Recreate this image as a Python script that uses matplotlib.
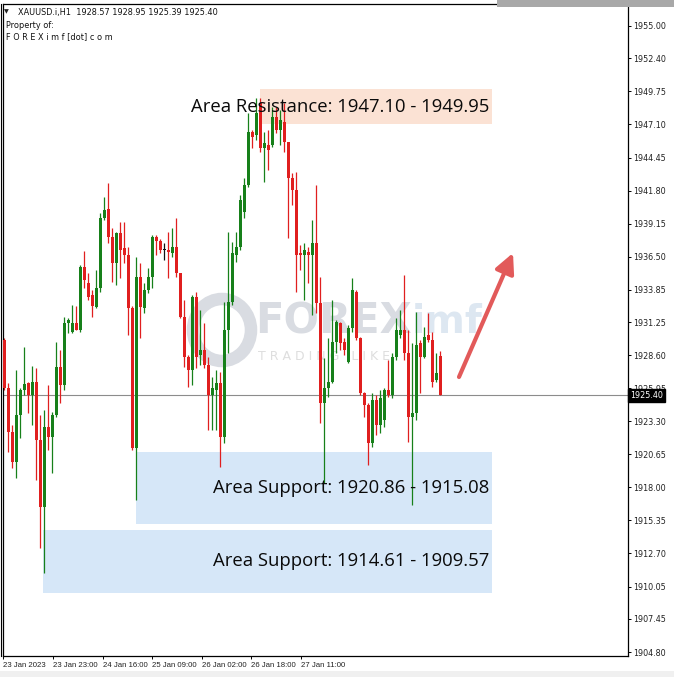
import numpy as np
import matplotlib
matplotlib.use("Agg")
import matplotlib.pyplot as plt
from matplotlib.patches import Rectangle, Ellipse
from matplotlib.lines import Line2D
from matplotlib.transforms import blended_transform_factory

# ---------------- data ----------------
symbol = "XAUUSD.i,H1"
header_ohlc = "1928.57 1928.95 1925.39 1925.40"

opens = [1929.82, 1925.97, 1922.44, 1920.04, 1923.81, 1925.81, 1926.37, 1925.41, 1926.45, 1921.80,
         1916.43, 1922.84, 1922.04, 1923.81, 1927.66, 1926.21, 1931.18, 1930.46, 1931.18, 1930.62,
         1935.67, 1934.39, 1933.43, 1932.47, 1933.99, 1939.60, 1940.33, 1938.08, 1936.00, 1938.40,
         1937.20, 1936.64, 1932.39, 1921.16, 1934.87, 1932.39, 1933.83, 1934.87, 1938.08, 1937.76,
         1937.04, 1937.04, 1936.80, 1937.28, 1935.19, 1931.67, 1928.46, 1927.41, 1933.27, 1928.62,
         1929.02, 1927.82, 1925.41, 1925.81, 1926.37, 1922.04, 1930.62, 1932.87, 1936.64, 1937.28,
         1940.09, 1942.25, 1946.50, 1946.26, 1948.83, 1945.22, 1945.46, 1945.46, 1947.70, 1946.66,
         1947.30, 1945.70, 1942.81, 1941.85, 1936.80, 1936.64, 1936.88, 1936.64, 1937.60, 1932.79,
         1924.77, 1925.97, 1926.45, 1929.66, 1931.18, 1929.66, 1928.06, 1930.78, 1933.67, 1929.98,
         1925.57, 1924.61, 1921.56, 1925.01, 1923.00, 1923.41, 1925.81, 1925.41, 1928.46, 1930.22,
         1930.62, 1928.78, 1923.65, 1923.97, 1929.58, 1928.46, 1930.22, 1929.82, 1926.61, 1928.57]

highs = [1929.98, 1926.37, 1923.00, 1927.41, 1925.97, 1929.26, 1926.45, 1927.74, 1927.58, 1923.81,
         1924.21, 1926.21, 1924.05, 1929.66, 1929.02, 1931.67, 1931.59, 1932.63, 1932.55, 1935.83,
         1936.96, 1935.19, 1933.83, 1935.43, 1940.00, 1941.29, 1942.41, 1938.80, 1938.50, 1939.28,
         1939.28, 1937.28, 1932.55, 1936.48, 1936.00, 1934.39, 1935.59, 1938.24, 1938.24, 1937.92,
         1937.60, 1938.48, 1938.80, 1939.60, 1935.19, 1933.03, 1928.62, 1933.43, 1933.67, 1932.23,
         1931.18, 1928.46, 1926.85, 1927.41, 1927.25, 1932.87, 1938.48, 1937.68, 1938.48, 1941.45,
         1942.81, 1948.02, 1946.66, 1949.23, 1949.23, 1946.50, 1946.66, 1948.51, 1948.51, 1948.26,
         1948.83, 1945.70, 1943.21, 1943.29, 1937.44, 1937.60, 1937.28, 1939.44, 1942.25, 1934.87,
         1928.38, 1929.98, 1933.03, 1931.42, 1931.26, 1929.98, 1931.02, 1934.79, 1933.83, 1930.06,
         1925.65, 1924.77, 1925.57, 1925.41, 1925.81, 1925.97, 1928.22, 1928.78, 1931.59, 1932.23,
         1935.03, 1930.62, 1929.58, 1932.07, 1929.82, 1930.86, 1931.99, 1930.46, 1928.78, 1928.95]

lows = [1925.81, 1920.84, 1919.56, 1918.75, 1921.96, 1925.41, 1923.97, 1923.00, 1918.59, 1913.14,
        1911.14, 1921.00, 1919.15, 1923.65, 1924.77, 1925.81, 1930.38, 1930.38, 1930.62, 1930.46,
        1933.99, 1933.03, 1931.67, 1932.39, 1933.67, 1939.44, 1937.60, 1934.47, 1934.23, 1934.79,
        1936.00, 1930.22, 1921.00, 1916.99, 1929.98, 1931.99, 1933.59, 1933.99, 1936.64, 1936.80,
        1936.24, 1934.79, 1936.48, 1934.87, 1931.59, 1927.66, 1926.05, 1926.21, 1927.58, 1927.82,
        1927.58, 1922.60, 1922.60, 1922.60, 1919.64, 1921.56, 1928.78, 1932.63, 1936.08, 1937.04,
        1939.60, 1942.09, 1945.22, 1945.86, 1944.90, 1942.49, 1943.45, 1945.30, 1946.42, 1945.46,
        1944.90, 1938.00, 1940.65, 1933.67, 1935.43, 1933.03, 1934.39, 1931.83, 1931.99, 1923.17,
        1918.35, 1925.25, 1926.37, 1928.78, 1929.02, 1928.62, 1927.98, 1930.46, 1929.82, 1925.41,
        1923.65, 1919.80, 1921.24, 1922.20, 1922.36, 1922.84, 1925.25, 1925.17, 1928.22, 1929.98,
        1928.22, 1921.64, 1916.59, 1923.41, 1925.57, 1928.38, 1929.66, 1926.05, 1926.45, 1925.39]

closes = [1925.97, 1922.44, 1920.04, 1923.81, 1925.81, 1926.29, 1925.41, 1926.45, 1921.80, 1916.43,
          1922.84, 1922.04, 1923.81, 1927.66, 1926.21, 1931.18, 1931.42, 1931.18, 1930.62, 1935.67,
          1934.63, 1933.27, 1932.55, 1933.99, 1939.60, 1940.25, 1938.08, 1936.00, 1938.40, 1937.04,
          1936.64, 1932.39, 1921.16, 1934.87, 1932.47, 1933.83, 1934.87, 1938.08, 1937.76, 1937.04,
          1937.04, 1936.88, 1937.28, 1935.19, 1931.67, 1928.46, 1927.41, 1933.27, 1928.46, 1929.02,
          1927.82, 1925.41, 1925.97, 1926.37, 1922.04, 1930.62, 1932.87, 1936.80, 1937.28, 1941.05,
          1942.25, 1946.50, 1946.10, 1948.02, 1945.22, 1945.62, 1945.06, 1947.70, 1946.66, 1947.46,
          1945.70, 1942.81, 1941.85, 1936.64, 1936.64, 1937.04, 1936.64, 1937.60, 1932.79, 1924.77,
          1925.97, 1926.45, 1929.66, 1931.26, 1929.58, 1929.02, 1930.78, 1933.83, 1929.98, 1925.57,
          1924.61, 1921.56, 1925.01, 1923.00, 1925.17, 1925.81, 1925.41, 1928.46, 1930.62, 1930.62,
          1928.78, 1923.65, 1923.97, 1929.42, 1928.46, 1930.06, 1929.82, 1926.45, 1927.17, 1925.40]

time_labels = ["23 Jan 2023", "23 Jan 23:00", "24 Jan 16:00", "25 Jan 09:00",
               "26 Jan 02:00", "26 Jan 18:00", "27 Jan 11:00"]

price_ticks = [1955.00, 1952.40, 1949.75, 1947.10, 1944.45, 1941.80, 1939.15, 1936.50,
               1933.85, 1931.25, 1928.60, 1925.95, 1923.30, 1920.65, 1918.00, 1915.35,
               1912.70, 1910.05, 1907.45, 1904.80]

last_price = 1925.40

zone_names = ["Area Resistance", "Area Support", "Area Support"]
zone_highs = [1949.95, 1920.86, 1914.61]
zone_lows = [1947.10, 1915.08, 1909.57]

# ---------------- figure ----------------
plt.rcParams['font.family'] = ['DejaVu Sans']
W, H = 674, 677
fig = plt.figure(figsize=(W / 100, H / 100), dpi=100)
fig.patch.set_facecolor('white')
ax = fig.add_axes([3 / W, 21 / H, 625 / W, 652 / H])
ax.set_xlim(-0.3, 155.95)
ax.set_ylim(1904.48, 1956.76)


def pa(px, py):
    """pixel position of the picture -> axes fraction (for decorations)"""
    return ((px - 3) / 625.0, (656 - py) / 652.0)


n = len(opens)
x = np.arange(n)
o = np.array(opens); h = np.array(highs); l = np.array(lows); c = np.array(closes)
bull = '#17801a'
bear = '#e01f1f'
cols = np.where(c > o, bull, np.where(c < o, bear, '#111111'))

# watermark
wm = '#d9dce2'
cx, cy = pa(222, 330)
ax.add_patch(Ellipse((cx, cy), 58 / 625, 62 / 652, transform=ax.transAxes,
                     facecolor='none', edgecolor=wm, lw=9, zorder=0.6))
tx, ty = pa(255, 322)
ax.text(tx, ty, "FOREX", transform=ax.transAxes, fontsize=30, fontweight='bold',
        color=wm, ha='left', va='center', zorder=0.6)
tx, ty = pa(412, 322)
ax.text(tx, ty, "imf", transform=ax.transAxes, fontsize=28, fontweight='bold',
        color='#dde7f1', ha='left', va='center', zorder=0.6)
tx, ty = pa(258, 357)
ax.text(tx, ty, "T R A D I N G   L I K E", transform=ax.transAxes, fontsize=9,
        color='#dedede', ha='left', va='center', zorder=0.6)

# zones
zone_x0 = [63.9, 32.9, 9.7]
zone_x1 = 121.95
zone_colors = ['#fbe2d4', '#d6e7f8', '#d6e7f8']
for i in range(len(zone_names)):
    ax.add_patch(Rectangle((zone_x0[i], zone_lows[i]), zone_x1 - zone_x0[i],
                           zone_highs[i] - zone_lows[i], facecolor=zone_colors[i],
                           edgecolor='none', zorder=0.5))

# price line
ax.axhline(last_price, color='#8c8c8c', lw=0.8, zorder=1)

# candles
ax.vlines(x, l, h, colors=cols, lw=0.9, zorder=2)
body_h = np.abs(c - o)
body_b = np.minimum(o, c)
ax.bar(x, np.maximum(body_h, 0.06), bottom=body_b, width=0.72, color=cols,
       edgecolor='none', zorder=3)

# zone labels
for i in range(len(zone_names)):
    lab = f"{zone_names[i]}: {zone_highs[i]:.2f} - {zone_lows[i]:.2f}" if i > 0 else \
          f"{zone_names[i]}: {zone_lows[i]:.2f} - {zone_highs[i]:.2f}"
    ax.text(121.2, (zone_highs[i] + zone_lows[i]) / 2, lab, fontsize=13.3,
            family=['Open Sans', 'DejaVu Sans'], ha='right', va='center',
            color='#0a0a0a', zorder=5)

# arrow
sx, sy = pa(459, 377)
ex, ey = pa(513, 253)
ax.annotate('', xy=(ex, ey), xytext=(sx, sy), xycoords='axes fraction',
            textcoords='axes fraction',
            arrowprops=dict(arrowstyle='-|>,head_length=0.85,head_width=0.42',
                            color='#e25a5a', lw=3.0, shrinkA=0, shrinkB=0,
                            mutation_scale=14), zorder=6)

# axes styling
for s in ax.spines.values():
    s.set_color('black'); s.set_linewidth(0.9)
ax.yaxis.tick_right()
ax.set_yticks(price_ticks)
ax.set_yticklabels([f"{v:.2f}" for v in price_ticks])
ax.tick_params(axis='y', direction='out', length=2.2, width=0.7, labelsize=5.8,
               pad=1.8, colors='black', labelcolor='#222222')
tick_pos = np.arange(len(time_labels)) * 12.4 - 0.2
ax.set_xticks(tick_pos)
ax.set_xticklabels(time_labels, ha='left', family=['Liberation Sans', 'DejaVu Sans'])
ax.tick_params(axis='x', direction='out', length=2.5, width=0.7, labelsize=5.6,
               pad=1.5, colors='black', labelcolor='#222222')

# current price marker
btf = blended_transform_factory(ax.transAxes, ax.transData)
ax.text(1.004, last_price, f"{last_price:.2f}", transform=btf, ha='left', va='center',
        fontsize=5.8, color='white', clip_on=False, zorder=10,
        bbox=dict(boxstyle='square,pad=0.25', facecolor='black', edgecolor='black'))

# header texts
fig.text(4 / W, 1 - 12 / H, "\u25BC", fontsize=4.5, color='#222222', va='center', ha='left')
fig.text(18 / W, 1 - 12 / H, f"{symbol}  {header_ohlc}", fontsize=5.9, color='#111111',
         va='center', ha='left')
fig.text(6 / W, 1 - 25 / H, "Property of:", fontsize=5.9, color='#111111', va='center', ha='left')
fig.text(6 / W, 1 - 37 / H, "F O R E X i m f [dot] c o m", fontsize=5.9, color='#111111',
         va='center', ha='left')

# window chrome bits
fig.add_artist(Rectangle((497 / W, 1 - 7 / H), 177 / W, 7 / H, transform=fig.transFigure,
                         facecolor='#a8a8a8', edgecolor='none'))
fig.add_artist(Rectangle((0, 0), 1, 6 / H, transform=fig.transFigure,
                         facecolor='#f0f0f0', edgecolor='none'))
fig.add_artist(Line2D([1 / W, 1 / W], [21 / H, 1 - 4 / H], transform=fig.transFigure,
                      color='black', lw=0.8))

fig.savefig("out.png", dpi=100)
